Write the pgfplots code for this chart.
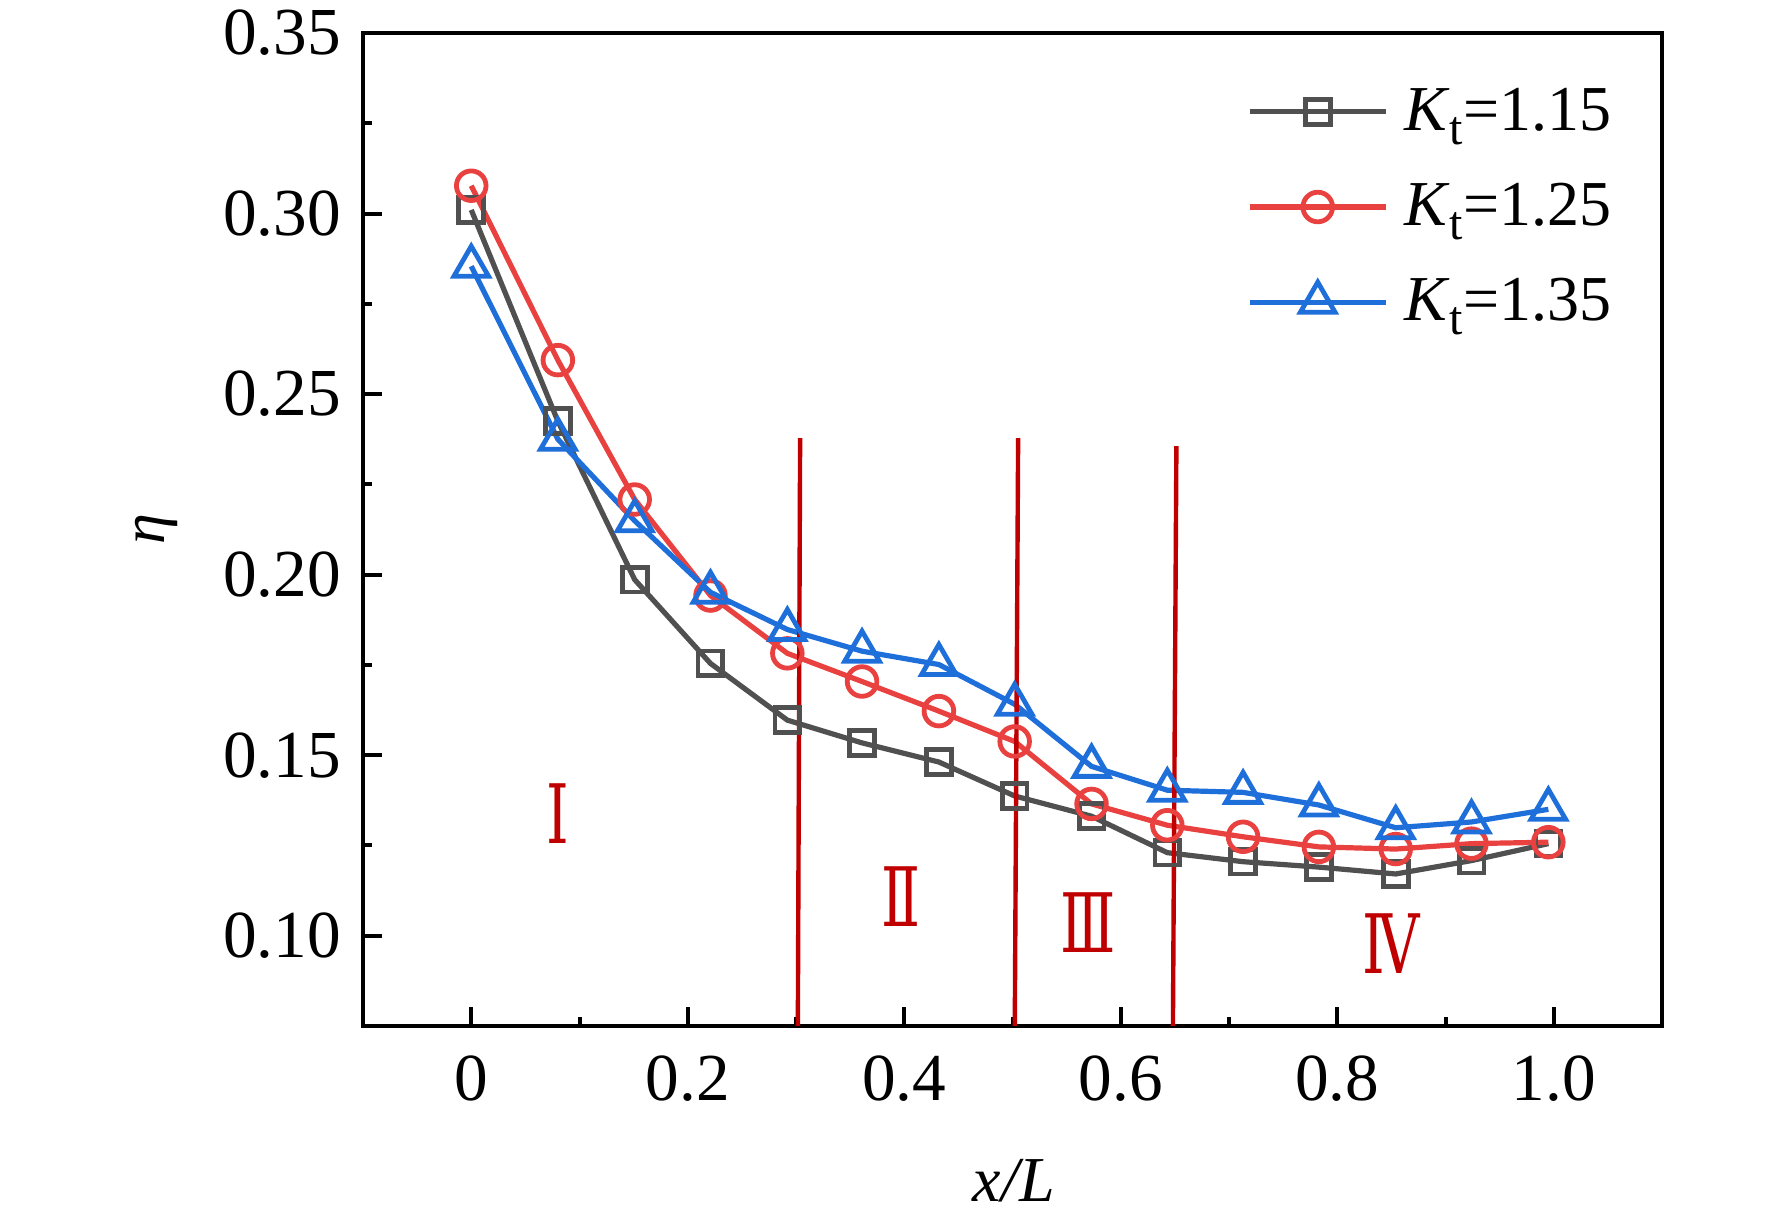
\documentclass[border=0pt]{standalone}
\usepackage{fontspec}
\setmainfont{Liberation Serif}
\newfontfamily\romfont{DejaVu Serif}
\usepackage{pgfplots}
\pgfplotsset{compat=1.18}
\definecolor{cgray}{HTML}{505050}
\definecolor{cred}{HTML}{E8413F}
\definecolor{cblue}{HTML}{1F6FDB}
\definecolor{cdred}{HTML}{C00000}
\newcommand{\Kt}[1]{\textit{K}\raisebox{-3.6pt}[0pt][0pt]{\fontsize{12}{12}\selectfont t}=#1}
\newcommand{\Rom}[1]{\scalebox{0.7}[1]{\romfont #1}}
\begin{document}
\begin{tikzpicture}
\begin{axis}[
  scale only axis, width=324.75pt, height=248.25pt,
  xmin=-0.1, xmax=1.1, ymin=0.075, ymax=0.35,
  axis line style={line width=1pt},
  xtick={0,0.2,0.4,0.6,0.8,1.0}, xticklabels={0,0.2,0.4,0.6,0.8,1.0},
  minor x tick num=1,
  ytick={0.10,0.15,0.20,0.25,0.30,0.35}, minor y tick num=1,
  yticklabel style={/pgf/number format/fixed, /pgf/number format/fixed zerofill, /pgf/number format/precision=2, xshift=-2pt},
  /pgf/number format/assume math mode=true,
  tick label style={font=\fontsize{16.8}{19}\selectfont},
  xticklabel style={yshift=-4pt},
  tick pos=left, tick align=inside,
  major tick length=4.7pt, minor tick length=2.3pt,
  every tick/.style={line width=1pt, black},
  xlabel={\textit{x/L}}, xlabel style={font=\fontsize{16}{18}\selectfont, at={(axis description cs:0.501,-0.156)}, anchor=center},
  ylabel={\textit{η}}, ylabel style={font=\fontsize{15.5}{18}\selectfont, at={(axis description cs:-0.159,0.5)}, anchor=center},
  legend style={draw=none, fill=none, font=\fontsize{16}{19}\selectfont, at={(axis description cs:1,1)}, anchor=north east, xshift=-7.5pt, yshift=-9.5pt, row sep=7.7pt, column sep=2pt},
  legend cell align=left,
  legend image code/.code={\draw[mark repeat=2, mark phase=2] plot coordinates {(0pt,0pt) (17pt,0pt) (34pt,0pt)};},
]
\addplot[color=cgray, line width=1.3pt, mark=square, mark size=3.1pt, mark options={solid, fill=white, line width=1.2pt}] coordinates {
(0,0.3010) (0.080,0.2425) (0.151,0.1986) (0.221,0.1754) (0.292,0.1597) (0.361,0.1534) (0.432,0.1481) (0.502,0.1387) (0.573,0.1331) (0.643,0.1230) (0.713,0.1205) (0.783,0.1190) (0.854,0.1171) (0.924,0.1208) (0.995,0.1255)};
\addlegendentry{\Kt{1.15}}
\addplot[color=cred, line width=1.3pt, mark=o, mark size=3.7pt, mark options={solid, fill=white, line width=1.2pt}] coordinates {
(0,0.3077) (0.080,0.2594) (0.151,0.2208) (0.221,0.1942) (0.292,0.1782) (0.361,0.1704) (0.432,0.1622) (0.502,0.1538) (0.573,0.1365) (0.643,0.1306) (0.713,0.1274) (0.783,0.1246) (0.854,0.1240) (0.924,0.1255) (0.995,0.1259)};
\addlegendentry{\Kt{1.25}}
\addplot[color=cblue, line width=1.3pt, mark=triangle, mark size=5pt, mark options={solid, fill=white, line width=1.2pt}] coordinates {
(0,0.2854) (0.080,0.2375) (0.151,0.2149) (0.221,0.1951) (0.292,0.1848) (0.361,0.1788) (0.432,0.1751) (0.502,0.1641) (0.573,0.1469) (0.643,0.1403) (0.713,0.1397) (0.783,0.1362) (0.854,0.1299) (0.924,0.1315) (0.995,0.1350)};
\addlegendentry{\Kt{1.35}}
\addplot[cdred, line width=1.1pt, forget plot] coordinates {(0.3017,0.075) (0.3038,0.2378)};
\addplot[cdred, line width=1.1pt, forget plot] coordinates {(0.5021,0.075) (0.5052,0.2378)};
\addplot[cdred, line width=1.1pt, forget plot] coordinates {(0.6482,0.075) (0.6514,0.2356)};
\node[text=cdred, font=\fontsize{20.5}{22}\selectfont] at (axis cs:0.08,0.1337) {\Rom{Ⅰ}};
\node[text=cdred, font=\fontsize{20.5}{22}\selectfont] at (axis cs:0.397,0.1107) {\Rom{Ⅱ}};
\node[text=cdred, font=\fontsize{20.5}{22}\selectfont] at (axis cs:0.570,0.1035) {\Rom{Ⅲ}};
\node[text=cdred, font=\fontsize{20.5}{22}\selectfont] at (axis cs:0.850,0.0977) {\Rom{Ⅳ}};
\coordinate (SW) at (rel axis cs:0,0);
\coordinate (NE) at (rel axis cs:1,1);
\end{axis}
\pgfresetboundingbox
\path[use as bounding box] ([xshift=-90.75pt,yshift=-47.5pt]SW) rectangle ([xshift=27.5pt,yshift=8.25pt]NE);
\end{tikzpicture}
\end{document}
